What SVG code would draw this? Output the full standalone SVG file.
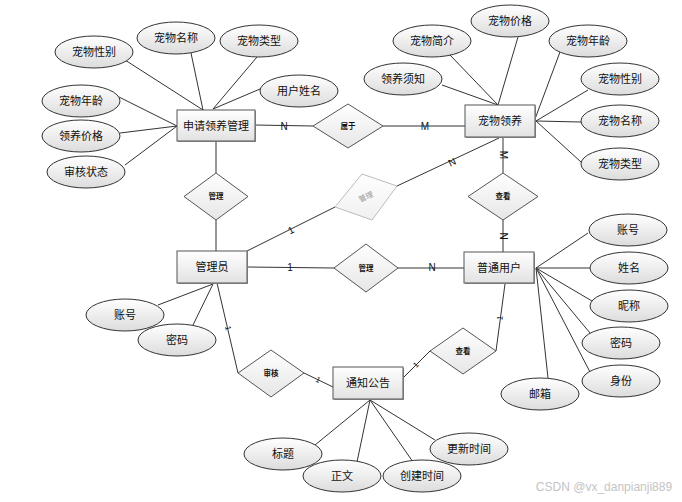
<svg xmlns="http://www.w3.org/2000/svg" width="682" height="502" viewBox="0 0 682 502">
<defs>
<linearGradient id="gE" x1="0" y1="0" x2="0" y2="1"><stop offset="0" stop-color="#ffffff"/><stop offset="1" stop-color="#e2e2e2"/></linearGradient>
<linearGradient id="gA" x1="0" y1="0" x2="0" y2="1"><stop offset="0" stop-color="#ffffff"/><stop offset="1" stop-color="#dcdcdc"/></linearGradient>
<linearGradient id="gR" x1="0" y1="0" x2="0" y2="1"><stop offset="0" stop-color="#ffffff"/><stop offset="1" stop-color="#e6e6e6"/></linearGradient>
<linearGradient id="gF" x1="0" y1="0" x2="0" y2="1"><stop offset="0" stop-color="#ffffff"/><stop offset="1" stop-color="#f0f0f0"/></linearGradient>
</defs>
<style>
.ent rect.s{fill:#9a9a9a;stroke:none}
.ent rect.b{fill:url(#gE);stroke:#555;stroke-width:1}
.attr ellipse{fill:url(#gA);stroke:#333;stroke-width:1}
.rel polygon{fill:url(#gR);stroke:#555;stroke-width:1}
.ln line{stroke:#333;stroke-width:1}
text{font-family:"Liberation Sans","Noto Sans CJK SC",sans-serif;fill:#111;text-anchor:middle;dominant-baseline:central}
.t{font-size:11px}
.r{font-size:7.5px;font-weight:bold}
.c{font-size:10px}
.c2{font-size:8px}
</style>
<rect width="682" height="502" fill="#fff"/>
<g id="connectors" class="ln">
<line x1="125" y1="60" x2="203" y2="110"/>
<line x1="191" y1="53" x2="203" y2="110"/>
<line x1="257" y1="57" x2="213" y2="109"/>
<line x1="260" y1="89" x2="213" y2="109"/>
<line x1="119" y1="97" x2="177" y2="126"/>
<line x1="120" y1="133" x2="177" y2="126"/>
<line x1="125" y1="165" x2="177" y2="126"/>
<line x1="255" y1="125" x2="313" y2="126"/>
<line x1="383" y1="126" x2="465" y2="126"/>
<line x1="216" y1="141" x2="216" y2="173"/>
<line x1="216" y1="220" x2="216" y2="251"/>
<line x1="442" y1="85" x2="498" y2="105"/>
<line x1="450" y1="55" x2="498" y2="105"/>
<line x1="518" y1="37" x2="498" y2="105"/>
<line x1="560" y1="52" x2="535" y2="119"/>
<line x1="588" y1="90" x2="536" y2="121"/>
<line x1="581" y1="122" x2="536" y2="121"/>
<line x1="581" y1="162" x2="536" y2="121"/>
<line x1="503" y1="137" x2="503" y2="173"/>
<line x1="503" y1="220" x2="503" y2="252"/>
<line x1="247" y1="251" x2="335" y2="207"/>
<line x1="397" y1="186" x2="499" y2="138"/>
<line x1="247" y1="267" x2="334" y2="268"/>
<line x1="398" y1="268" x2="464" y2="268"/>
<line x1="158" y1="305" x2="213" y2="284"/>
<line x1="193" y1="325" x2="213" y2="284"/>
<line x1="217" y1="283" x2="238" y2="373"/>
<line x1="304" y1="373" x2="333" y2="387"/>
<line x1="496" y1="351" x2="505" y2="284"/>
<line x1="430" y1="351" x2="403" y2="378"/>
<line x1="588" y1="233" x2="536" y2="268"/>
<line x1="590" y1="268" x2="536" y2="268"/>
<line x1="592" y1="301" x2="536" y2="268"/>
<line x1="590" y1="333" x2="536" y2="268"/>
<line x1="590" y1="372" x2="536" y2="268"/>
<line x1="548" y1="378" x2="536" y2="268"/>
<line x1="315" y1="445" x2="370" y2="400"/>
<line x1="357" y1="462" x2="370" y2="400"/>
<line x1="413" y1="462" x2="370" y2="400"/>
<line x1="435" y1="440" x2="370" y2="400"/>
</g>
<g id="cardinality">
<text class="c" x="284" y="126">N</text>
<text class="c" x="425" y="126">M</text>
<text class="c" x="503" y="155" transform="rotate(90 503 155)">M</text>
<text class="c" x="503" y="236" transform="rotate(90 503 236)">N</text>
<text class="c" x="291" y="230" transform="rotate(-27 291 230)">1</text>
<text class="c" x="452" y="162" transform="rotate(-25 452 162)">N</text>
<text class="c" x="290" y="267">1</text>
<text class="c" x="432" y="267">N</text>
<text class="c2" x="228" y="328" transform="rotate(77 228 328)">1</text>
<text class="c2" x="318" y="380" transform="rotate(25 318 380)">1</text>
<text class="c2" x="500" y="318" transform="rotate(-82 500 318)">1</text>
<text class="c2" x="416" y="365" transform="rotate(-45 416 365)">1</text>
</g>
<g id="e-apply" class="ent"><rect class="s" x="178" y="111" width="78" height="31"/><rect class="b" x="177" y="110" width="78" height="31"/><text class="t" x="216" y="125.5">申请领养管理</text></g>
<g id="e-pet" class="ent"><rect class="s" x="466" y="106" width="70" height="32"/><rect class="b" x="465" y="105" width="70" height="32"/><text class="t" x="500" y="121">宠物领养</text></g>
<g id="e-admin" class="ent"><rect class="s" x="178" y="252" width="70" height="32"/><rect class="b" x="177" y="251" width="70" height="32"/><text class="t" x="212" y="267">管理员</text></g>
<g id="e-user" class="ent"><rect class="s" x="465" y="253" width="70" height="31"/><rect class="b" x="464" y="252" width="70" height="31"/><text class="t" x="499" y="267.5">普通用户</text></g>
<g id="e-notice" class="ent"><rect class="s" x="334" y="368" width="70" height="32"/><rect class="b" x="333" y="367" width="70" height="32"/><text class="t" x="368" y="383">通知公告</text></g>
<g id="r-belong" class="rel"><polygon points="313,126 348,104 383,126 348,148"/><text class="r" x="348" y="126">属于</text></g>
<g id="r-manage1" class="rel"><polygon points="184,196.5 216,173 248,196.5 216,220"/><text class="r" x="216" y="196.5">管理</text></g>
<g id="r-view1" class="rel"><polygon points="468,196.5 503,173 538,196.5 503,220"/><text class="r" x="503" y="196.5">查看</text></g>
<g id="r-manage2" class="rel"><polygon points="334,268 366,244 398,268 366,292"/><text class="r" x="366" y="268">管理</text></g>
<g id="r-manage3"><polygon points="335,207 362,174 397,186 372,220" fill="url(#gF)" stroke="#bbb" stroke-width="1"/><text x="366" y="197" font-size="7.5" fill="#999" style="fill:#999" transform="rotate(-24 366 197)">管理</text></g>
<g id="r-audit" class="rel"><polygon points="238,373 271,350 304,373 271,397"/><text class="r" x="271" y="373">审核</text></g>
<g id="r-view2" class="rel"><polygon points="430,351 463,328 496,351 463,374"/><text class="r" x="463" y="351">查看</text></g>
<g id="a1" class="attr"><ellipse cx="94" cy="52" rx="39" ry="16"/><text class="t" x="94" y="52">宠物性别</text></g>
<g id="a2" class="attr"><ellipse cx="176" cy="38" rx="39" ry="16"/><text class="t" x="176" y="38">宠物名称</text></g>
<g id="a3" class="attr"><ellipse cx="259" cy="41" rx="39" ry="16"/><text class="t" x="259" y="41">宠物类型</text></g>
<g id="a4" class="attr"><ellipse cx="299" cy="91" rx="39" ry="16"/><text class="t" x="299" y="91">用户姓名</text></g>
<g id="a5" class="attr"><ellipse cx="81" cy="101" rx="39" ry="16"/><text class="t" x="81" y="101">宠物年龄</text></g>
<g id="a6" class="attr"><ellipse cx="81" cy="136" rx="39" ry="16"/><text class="t" x="81" y="136">领养价格</text></g>
<g id="a7" class="attr"><ellipse cx="86" cy="172" rx="39" ry="16"/><text class="t" x="86" y="172">审核状态</text></g>
<g id="b1" class="attr"><ellipse cx="432" cy="41" rx="39" ry="16"/><text class="t" x="432" y="41">宠物简介</text></g>
<g id="b2" class="attr"><ellipse cx="510" cy="21" rx="39" ry="16"/><text class="t" x="510" y="21">宠物价格</text></g>
<g id="b3" class="attr"><ellipse cx="588" cy="41" rx="39" ry="16"/><text class="t" x="588" y="41">宠物年龄</text></g>
<g id="b4" class="attr"><ellipse cx="403" cy="79" rx="39" ry="16"/><text class="t" x="403" y="79">领养须知</text></g>
<g id="b5" class="attr"><ellipse cx="620" cy="79" rx="39" ry="16"/><text class="t" x="620" y="79">宠物性别</text></g>
<g id="b6" class="attr"><ellipse cx="620" cy="121" rx="39" ry="16"/><text class="t" x="620" y="121">宠物名称</text></g>
<g id="b7" class="attr"><ellipse cx="620" cy="164" rx="39" ry="16"/><text class="t" x="620" y="164">宠物类型</text></g>
<g id="c1" class="attr"><ellipse cx="125" cy="315" rx="39" ry="16"/><text class="t" x="125" y="315">账号</text></g>
<g id="c2" class="attr"><ellipse cx="177" cy="340" rx="39" ry="16"/><text class="t" x="177" y="340">密码</text></g>
<g id="d1" class="attr"><ellipse cx="628" cy="230" rx="39" ry="16"/><text class="t" x="628" y="230">账号</text></g>
<g id="d2" class="attr"><ellipse cx="629" cy="268" rx="39" ry="16"/><text class="t" x="629" y="268">姓名</text></g>
<g id="d3" class="attr"><ellipse cx="629" cy="306" rx="39" ry="16"/><text class="t" x="629" y="306">昵称</text></g>
<g id="d4" class="attr"><ellipse cx="621" cy="343" rx="39" ry="16"/><text class="t" x="621" y="343">密码</text></g>
<g id="d5" class="attr"><ellipse cx="621" cy="381" rx="39" ry="16"/><text class="t" x="621" y="381">身份</text></g>
<g id="d6" class="attr"><ellipse cx="540" cy="394" rx="39" ry="16"/><text class="t" x="540" y="394">邮箱</text></g>
<g id="f1" class="attr"><ellipse cx="283" cy="454" rx="39" ry="16"/><text class="t" x="283" y="454">标题</text></g>
<g id="f2" class="attr"><ellipse cx="342" cy="476" rx="39" ry="16"/><text class="t" x="342" y="476">正文</text></g>
<g id="f3" class="attr"><ellipse cx="422" cy="476" rx="39" ry="16"/><text class="t" x="422" y="476">创建时间</text></g>
<g id="f4" class="attr"><ellipse cx="469" cy="449" rx="39" ry="16"/><text class="t" x="469" y="449">更新时间</text></g>
<text x="604" y="487" font-size="12" style="fill:#c4c4c4">CSDN @vx_danpianji889</text>
</svg>
